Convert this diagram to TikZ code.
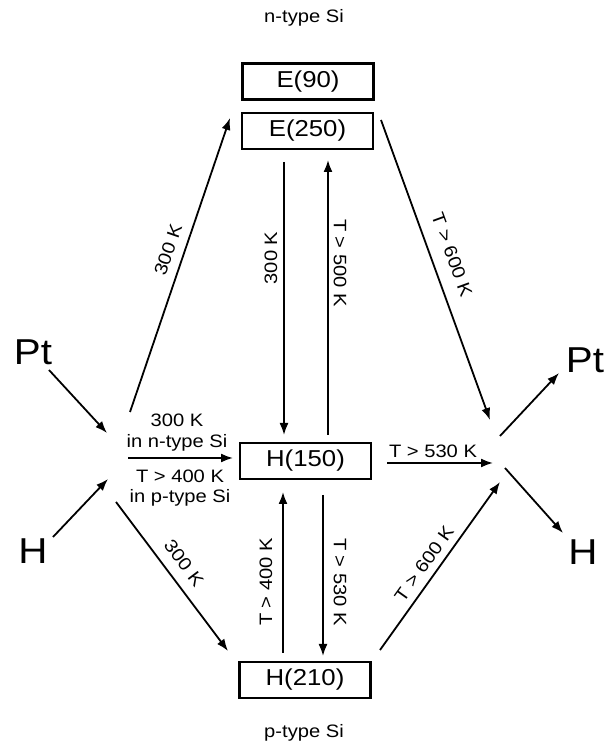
\documentclass[tikz,border=0pt]{standalone}
\usepackage{fontspec}
\setmainfont{Liberation Sans}[FakeStretch=1.12]
\usetikzlibrary{arrows.meta}
\begin{document}
\begin{tikzpicture}[x=1pt,y=1pt,
  level/.style={draw, line width=2.4pt, minimum width=131pt, minimum height=36pt,
    inner sep=0pt, font=\fontsize{23}{25}\selectfont},
  lbl/.style={inner sep=0pt, font=\fontsize{18}{20}\selectfont},
  species/.style={inner sep=0pt, font=\fontsize{36}{40}\selectfont},
  arr/.style={line width=1.8pt, -{Latex[length=12pt,width=9pt]}}]
\useasboundingbox (0,0) rectangle (611,750);

% defect levels
\node[level] (e90)  at (308,668.5) {E(90)};
\node[level] (e250) at (307.5,619) {E(250)};
\node[level] (h150) at (305.5,289) {H(150)};
\node[level] (h210) at (305,70)    {H(210)};

\node[lbl] (ntype) at (304,732) {n-type Si};
\node[lbl] (ptype) at (304,17)  {p-type Si};

% incoming and outgoing species
\node[species] (ptL) at (33,398)  {Pt};
\node[species] (hL)  at (33,199)  {H};
\node[species] (ptR) at (585,390) {Pt};
\node[species] (hR)  at (583,198) {H};

% connector end points
\coordinate (a1s) at (130,338);  \coordinate (a1e) at (230,632);
\coordinate (a2s) at (284,588);  \coordinate (a2e) at (284,315);
\coordinate (a3s) at (328,315);  \coordinate (a3e) at (328,590);
\coordinate (a4s) at (381,630);  \coordinate (a4e) at (490,330);
\coordinate (a5s) at (49,380);   \coordinate (a5e) at (107,317);
\coordinate (a6s) at (53,213);   \coordinate (a6e) at (108,271);
\coordinate (a7s) at (128,292);  \coordinate (a7e) at (233,292);
\coordinate (a8s) at (116,248);  \coordinate (a8e) at (228,99);
\coordinate (a9s) at (283,97);   \coordinate (a9e) at (283,258);
\coordinate (a10s) at (323,255); \coordinate (a10e) at (323,94);
\coordinate (a11s) at (380,100); \coordinate (a11e) at (500,268);
\coordinate (a12s) at (387,287); \coordinate (a12e) at (493,287);
\coordinate (a13s) at (500,314); \coordinate (a13e) at (559,377);
\coordinate (a14s) at (505,282); \coordinate (a14e) at (563,217);

\draw[arr] (a1s) -- (a1e);
\draw[arr] (a2s) -- (a2e);
\draw[arr] (a3s) -- (a3e);
\draw[arr] (a4s) -- (a4e);
\draw[arr] (a5s) -- (a5e);
\draw[arr] (a6s) -- (a6e);
\draw[arr] (a7s) -- (a7e);
\draw[arr] (a8s) -- (a8e);
\draw[arr] (a9s) -- (a9e);
\draw[arr] (a10s) -- (a10e);
\draw[arr] (a11s) -- (a11e);
\draw[arr] (a12s) -- (a12e);
\draw[arr] (a13s) -- (a13e);
\draw[arr] (a14s) -- (a14e);

% transition labels
\node[lbl, rotate=71]   (l1) at (168,500) {300 K};
\node[lbl, rotate=90]   (l2) at (271,492) {300 K};
\node[lbl, rotate=-90]  (l3) at (340,487) {T > 500 K};
\node[lbl, rotate=-70]  (l4) at (452,495) {T > 600 K};
\node[lbl, rotate=-53]  (l5) at (184,187) {300 K};
\node[lbl, rotate=90]   (l6) at (266,168) {T > 400 K};
\node[lbl, rotate=-90]  (l7) at (340,168) {T > 530 K};
\node[lbl, rotate=54.5] (l8) at (424,186) {T > 600 K};
\node[lbl] (l9)  at (433,299) {T > 530 K};
\node[lbl] (l10) at (177,330) {300 K};
\node[lbl] (l11) at (177,307) {in n-type Si};
\node[lbl] (l12) at (180,274) {T > 400 K};
\node[lbl] (l13) at (180,252) {in p-type Si};
\end{tikzpicture}
\end{document}
